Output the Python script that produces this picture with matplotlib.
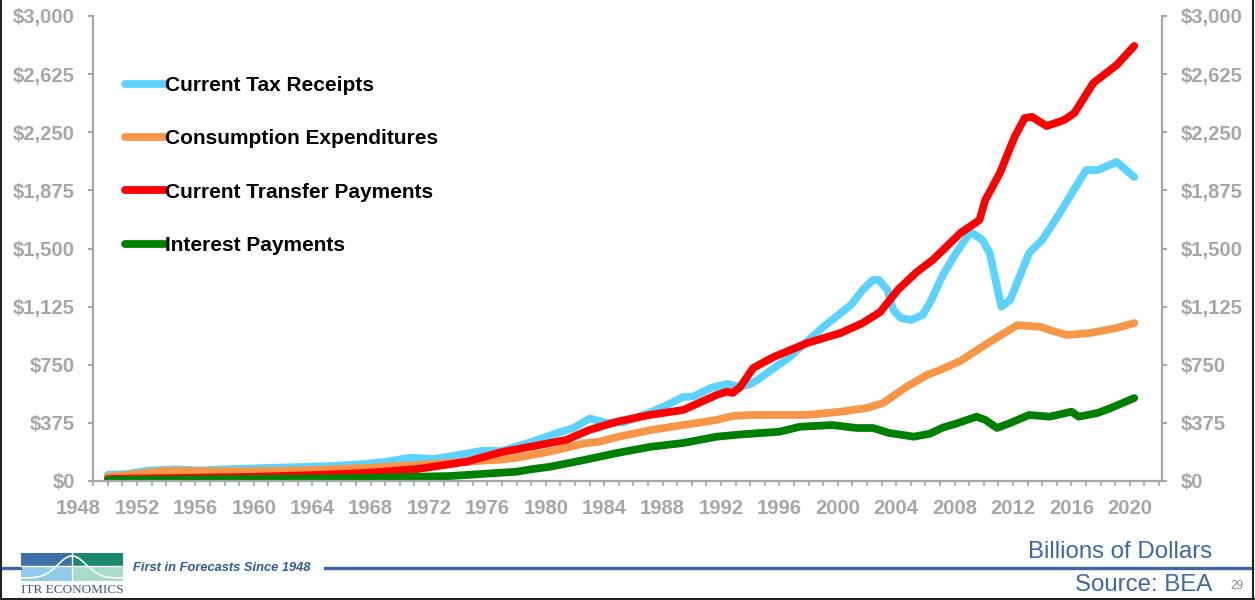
import matplotlib.pyplot as plt
import numpy as np
from matplotlib.lines import Line2D
from matplotlib.patches import Rectangle
from matplotlib.ticker import FuncFormatter, MultipleLocator

plt.rcParams["font.family"] = ["Liberation Sans", "DejaVu Sans"]

# Billions of dollars
tax_years = [1950, 1951.3, 1952.9, 1954.7, 1956.3, 1958.6, 1960.9, 1963.2, 1965.4,
             1967.7, 1969.1, 1970.7, 1972.3, 1973.4, 1975.7, 1976.9, 1979.1, 1980.8,
             1981.9, 1983, 1984.2, 1985.3, 1987.2, 1988.3, 1989.4, 1990.1, 1991.3,
             1992.4, 1993.3, 1994, 1994.5, 1996.7, 1999, 2000.9, 2001.7, 2002.4,
             2002.8, 2003.4, 2003.8, 2004.3, 2005, 2005.8, 2006.3, 2007.2, 2008.1,
             2009.1, 2009.9, 2010.4, 2011.2, 2011.8, 2013.1, 2014, 2015.2, 2017,
             2017.8, 2019.1, 2020.3]
tax_vals = [40, 45, 68, 75, 68, 77, 84, 90, 97,
            110, 125, 150, 142, 157, 196, 192, 254, 310,
            342, 403, 374, 378, 445, 490, 542, 545, 600,
            626, 607, 625, 652, 800, 994, 1136, 1232, 1297,
            1297, 1232, 1103, 1052, 1039, 1071, 1148, 1330, 1471,
            1607, 1555, 1471, 1125, 1168, 1471, 1555, 1729, 2006,
            2006, 2058, 1961]

cons_years = [1950, 1954, 1958.6, 1963.2, 1967.7, 1971.2, 1974.6, 1976.9, 1978,
              1980.3, 1982.6, 1983.7, 1984.9, 1987.2, 1989.4, 1991.7, 1992.8, 1994,
              1997.9, 2000.2, 2002, 2003.1, 2004.7, 2006.1, 2007, 2008.4, 2010.4,
              2012.3, 2013.9, 2014.5, 2015.7, 2017.3, 2019.1, 2020.3]
cons_vals = [26, 66, 62, 68, 84, 103, 125, 138, 150,
             190, 242, 254, 284, 329, 361, 394, 419, 426,
             426, 447, 471, 503, 607, 684, 716, 775, 897,
             1006, 994, 974, 942, 955, 987, 1019]

transfer_years = [1950, 1955, 1960, 1964, 1967.7, 1971.2, 1973.4, 1974.6, 1976.9,
                  1979, 1981.4, 1983, 1984.9, 1987.1, 1989.4, 1991.7, 1992.4, 1992.8,
                  1993.3, 1994.2, 1995.6, 1997.9, 2000.2, 2001.7, 2002.9, 2004.1,
                  2005.4, 2006.5, 2008.4, 2009.7, 2010.1, 2011.1, 2012.1, 2012.8,
                  2013.3, 2014.3, 2015.5, 2016.2, 2017.5, 2019.1, 2020.3]
transfer_vals = [13, 20, 27, 38, 52, 77, 108, 125, 185,
                 222, 265, 330, 383, 426, 458, 555, 576, 568,
                 605, 729, 800, 890, 955, 1019, 1090, 1232,
                 1348, 1426, 1600, 1684, 1813, 1987, 2219, 2342,
                 2349, 2290, 2329, 2374, 2568, 2684, 2807]

interest_years = [1950, 1958.6, 1967.7, 1973.4, 1974.6, 1978, 1979.1, 1980.3, 1982.6,
                  1984.9, 1987.2, 1989.4, 1991.7, 1993.3, 1996, 1997.4, 1999.6, 2001.3,
                  2002.4, 2003.5, 2005.2, 2006.3, 2007.2, 2008.1, 2009.5, 2010.1,
                  2010.9, 2011.8, 2013.1, 2014.5, 2016, 2016.5, 2017.8, 2018.7, 2020.3]
interest_vals = [6, 13, 19, 32, 39, 60, 77, 92, 135,
                 181, 221, 245, 286, 300, 318, 350, 361, 342,
                 342, 310, 286, 305, 345, 370, 415, 394,
                 342, 374, 426, 415, 447, 415, 439, 471, 535]

series = [
    ("Current Tax Receipts", tax_years, tax_vals, "#5CD3FF"),
    ("Consumption Expenditures", cons_years, cons_vals, "#F79646"),
    ("Current Transfer Payments", transfer_years, transfer_vals, "#FF0000"),
    ("Interest Payments", interest_years, interest_vals, "#008000"),
]

GRAY = "#A6A6A6"
BLUE = "#3F68A3"
W, H = 1255, 600
TICK_LEN, TICK_PAD, TICK_FS = 3.6, 9.5, 14.6

fig = plt.figure(figsize=(W / 100, H / 100), dpi=100)
ax = fig.add_axes([93 / W, 1 - 481 / H, (1162 - 93) / W, (481 - 16) / H])

for label, xs, ys, color in series:
    ax.plot(xs, ys, color=color, lw=5.6, solid_capstyle="round",
            solid_joinstyle="round", label=label)

ax.set_xlim(1948.99, 2022.2)
ax.set_ylim(0, 3000)

# axes styling
for side in ["left", "right", "bottom"]:
    ax.spines[side].set_color(GRAY)
    ax.spines[side].set_linewidth(1.6)
ax.spines["top"].set_visible(False)

ax.yaxis.set_major_locator(MultipleLocator(375))
ax.yaxis.set_major_formatter(FuncFormatter(lambda v, p: f"${v:,.0f}"))
ax.tick_params(axis="y", which="major", left=True, right=True, labelleft=True,
               labelright=True, direction="out", length=TICK_LEN, width=1.5,
               color=GRAY, labelcolor=GRAY, labelsize=TICK_FS, pad=TICK_PAD)

ax.xaxis.set_major_locator(MultipleLocator(4))
ax.xaxis.set_minor_locator(MultipleLocator(1))
ax.xaxis.set_major_formatter(FuncFormatter(lambda v, p: f"{v:.0f}"))
ax.tick_params(axis="x", which="both", direction="out", length=TICK_LEN, width=1.2,
               color=GRAY, labelcolor=GRAY, labelsize=TICK_FS, pad=TICK_PAD)
for t in ax.get_xticklabels():
    t.set_fontweight("bold")
for tick in ax.yaxis.get_major_ticks():
    tick.label1.set_fontweight("bold")
    tick.label2.set_fontweight("bold")

# first year label sits left of the axis start
ax.annotate("1948", xy=(1948, 0), xycoords=("data", "axes fraction"),
            xytext=(0, -(TICK_LEN + TICK_PAD)), textcoords="offset points",
            ha="center", va="top", color=GRAY, fontsize=TICK_FS,
            fontweight="bold", annotation_clip=False)

handles = [Line2D([0], [0], color=c, lw=5.6, solid_capstyle="round")
           for _, _, _, c in series]
fig.legend(handles, [s[0] for s in series], loc="upper left",
           bbox_to_anchor=(125 / W, 1 - 76 / H), frameon=False,
           handlelength=1.9, handletextpad=0.0, labelspacing=1.65,
           borderpad=0, borderaxespad=0,
           prop={"size": 15, "weight": "bold"})

# footer
fig.text(1212 / W, 1 - 552 / H, "Billions of Dollars", ha="right", va="center",
         color=BLUE, fontsize=17.3)
fig.text(1212 / W, 1 - 585 / H, "Source: BEA", ha="right", va="center",
         color=BLUE, fontsize=17.3)
fig.text(1237 / W, 1 - 586 / H, "29", ha="center", va="center",
         color="#8C8C8C", fontsize=8.5)
fig.text(133 / W, 1 - 568 / H, "First in Forecasts Since 1948", ha="left",
         va="center", color="#2E5B9A", fontsize=9.3, fontstyle="italic",
         fontweight="bold")
fig.add_artist(Line2D([0, 20 / W], [1 - 568 / H] * 2, color=BLUE, lw=2.4))
fig.add_artist(Line2D([325 / W, 1252 / W], [1 - 568 / H] * 2, color=BLUE, lw=2.4))

# logo block
lx0, lx1, lxm = 21, 123, 72
ly0, ly1, lym = 553, 581, 566
for (x0, x1, y0, y1, c) in [(lx0, lxm, ly0, lym, "#3D70A8"),
                            (lxm, lx1, ly0, lym, "#1B8A6B"),
                            (lx0, lxm, lym, ly1, "#8FCBEA"),
                            (lxm, lx1, lym, ly1, "#A6DACA")]:
    fig.add_artist(Rectangle((x0 / W, 1 - y1 / H), (x1 - x0) / W, (y1 - y0) / H,
                             facecolor=c, edgecolor="none"))
fig.add_artist(Line2D([lx0 / W, lx1 / W], [1 - lym / H] * 2, color="white", lw=1))
fig.add_artist(Line2D([lxm / W] * 2, [1 - ly0 / H, 1 - ly1 / H], color="white", lw=1))
cx = np.linspace(lx0, lx1, 80)
cy = ly1 - 3 - 22 * np.exp(-((cx - lxm) / 20) ** 2)
fig.add_artist(Line2D(cx / W, 1 - cy / H, color="white", lw=1.2))
fig.text(72 / W, 1 - 590 / H, "ITR ECONOMICS", ha="center", va="center",
         color="#3A5A80", fontsize=9.5, family="Liberation Serif")

# slide frame
for xs_, ys_ in [([1 / W, 1 / W], [0, 1]), ([1 - 2 / W, 1 - 2 / W], [0, 1]),
                 ([0, 1], [1.5 / H, 1.5 / H])]:
    fig.add_artist(Line2D(xs_, ys_, color="#222222", lw=1.5))

fig.savefig("out.png", dpi=100)
